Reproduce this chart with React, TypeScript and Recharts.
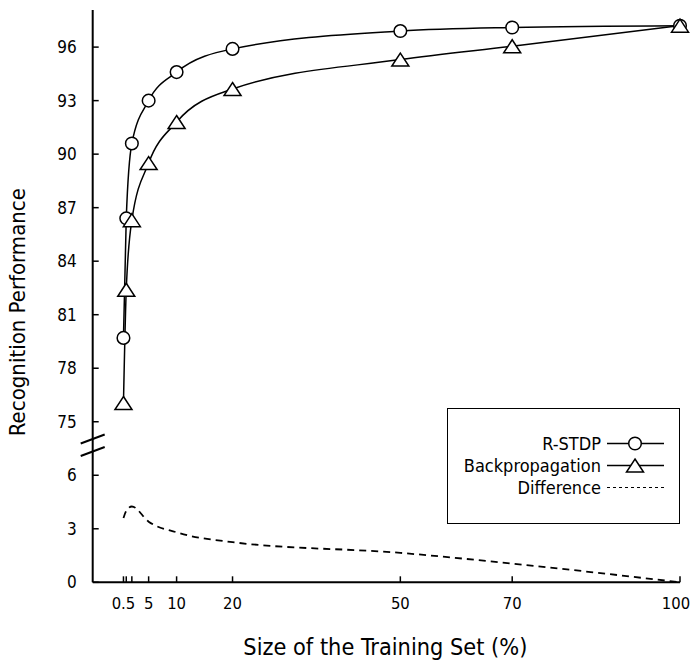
import { Label, Legend, Line, LineChart, XAxis, YAxis } from "recharts";

const SIZES = [0.5, 1, 2, 5, 10, 20, 50, 70, 100];
const RSTDP = [79.7, 86.4, 90.6, 93.0, 94.6, 95.9, 96.9, 97.1, 97.2];
const BACKPROP = [76.05, 82.4, 86.3, 89.5, 91.8, 93.65, 95.3, 96.05, 97.2];
const DIFFERENCE = [3.6, 4.0, 4.25, 3.4, 2.8, 2.25, 1.65, 1.05, 0];

const X_TICKS = [0.5, 1, 2, 5, 10, 20, 50, 70, 100];
const X_LABELED = [0.5, 5, 10, 20, 50, 70, 100];
const LOWER_TICKS = [0, 3, 6];
const UPPER_TICKS = [75, 78, 81, 84, 87, 90, 93, 96];
const LEGEND_ORDER = ["rstdp", "backprop", "difference"];

// broken y axis: 0..6 below, 75..98 above, with 3 units of empty room between
const LOWER_MAX = 6;
const UPPER_MIN = 75;
const GAP = 3;
const SHIFT = UPPER_MIN - (LOWER_MAX + GAP);
const BREAK_POS = LOWER_MAX + GAP / 2;
const toPlot = (v: number) => (v >= UPPER_MIN ? v - SHIFT : v);
const fromPlot = (p: number) => (p > BREAK_POS ? p + SHIFT : p);

const FONT = "'DejaVu Sans Condensed', 'DejaVu Sans', sans-serif";
const INK = "#000";

const rows = SIZES.map((size, i) => ({
  size,
  rstdp: toPlot(RSTDP[i]),
  backprop: toPlot(BACKPROP[i]),
  difference: DIFFERENCE[i],
}));

const yTicks = [...LOWER_TICKS, BREAK_POS, ...UPPER_TICKS.map(toPlot)];

function Circle({ cx, cy }: { cx: number; cy: number }) {
  return <circle cx={cx} cy={cy} r={6.3} fill="#fff" stroke={INK} strokeWidth={1.5} />;
}

function Triangle({ cx, cy }: { cx: number; cy: number }) {
  return (
    <polygon
      points={`${cx},${cy - 6.5} ${cx + 8.5},${cy + 6.5} ${cx - 8.5},${cy + 6.5}`}
      fill="#fff"
      stroke={INK}
      strokeWidth={1.5}
    />
  );
}

function YTick({ x, y, payload }: any) {
  const v = payload.value;
  if (v === BREAK_POS) {
    return (
      <g stroke={INK} strokeWidth={2}>
        <line x1={x - 12} y1={y - 5} x2={x + 12} y2={y - 14} />
        <line x1={x - 12} y1={y + 7.5} x2={x + 12} y2={y - 1.5} />
      </g>
    );
  }
  return (
    <g>
      <line x1={x} y1={y} x2={x + 6} y2={y} stroke={INK} strokeWidth={1.5} />
      <text x={x - 16} y={y} dy={6} textAnchor="end" fontFamily={FONT} fontSize={17} fill={INK}>
        {fromPlot(v)}
      </text>
    </g>
  );
}

function XTick({ x, y, payload }: any) {
  const v = payload.value;
  const last = v === X_TICKS[X_TICKS.length - 1];
  return (
    <g>
      <line x1={x} y1={y} x2={x} y2={y - 6} stroke={INK} strokeWidth={1.5} />
      {X_LABELED.includes(v) && (
        <text
          x={last ? x - 4 : x}
          y={y + 27}
          textAnchor="middle"
          fontFamily={FONT}
          fontSize={16.5}
          fill={INK}
        >
          {v}
        </text>
      )}
    </g>
  );
}

const MARKERS: Record<string, (cx: number, cy: number) => any> = {
  rstdp: (cx, cy) => <Circle cx={cx} cy={cy} />,
  backprop: (cx, cy) => <Triangle cx={cx} cy={cy} />,
  difference: () => null,
};

function LegendBox({ payload }: any) {
  const entries = [...(payload ?? [])].sort(
    (a: any, b: any) => LEGEND_ORDER.indexOf(a.dataKey) - LEGEND_ORDER.indexOf(b.dataKey)
  );
  return (
    <div style={{ width: 233, height: 116, border: `1.5px solid ${INK}`, boxSizing: "border-box", background: "#fff" }}>
      <svg width={230} height={113} style={{ display: "block" }}>
        {entries.map((entry: any, i: number) => {
          const cy = 34.5 + i * 22;
          const dashed = entry.dataKey === "difference";
          return (
            <g key={entry.dataKey}>
              <text x={153} y={cy} dy={6.5} textAnchor="end" fontFamily={FONT} fontSize={18} fill={INK}>
                {entry.value}
              </text>
              <line
                x1={159}
                y1={cy}
                x2={216}
                y2={cy}
                stroke={INK}
                strokeWidth={dashed ? 1.2 : 1.5}
                strokeDasharray={dashed ? "3 3" : undefined}
              />
              {MARKERS[entry.dataKey](187, cy)}
            </g>
          );
        })}
      </svg>
    </div>
  );
}

export default function App() {
  return (
    <div style={{ position: "absolute", left: 0, top: 0, width: 691, height: 661, background: "#fff" }}>
      <LineChart width={691} height={661} data={rows} margin={{ top: 10, right: 11, left: 0, bottom: 0 }}>
        <XAxis
          dataKey="size"
          type="number"
          domain={[-5, 100]}
          ticks={X_TICKS}
          interval={0}
          height={78.7}
          tickSize={0}
          tickMargin={0}
          tick={<XTick />}
          axisLine={{ stroke: INK, strokeWidth: 2 }}
        >
          <Label
            content={({ viewBox }: any) => (
              <text
                x={viewBox.x + viewBox.width / 2 - 1}
                y={viewBox.y + viewBox.height - 6}
                textAnchor="middle"
                fontFamily={FONT}
                fontSize={23.3}
                fill={INK}
              >
                Size of the Training Set (%)
              </text>
            )}
          />
        </XAxis>
        <YAxis
          type="number"
          domain={[0, 32.08]}
          ticks={yTicks}
          interval={0}
          width={92.7}
          tickSize={0}
          tickMargin={0}
          tick={<YTick />}
          axisLine={{ stroke: INK, strokeWidth: 2 }}
        >
          <Label
            content={({ viewBox }: any) => {
              const cx = 25;
              const cy = viewBox.y + viewBox.height / 2 + 16;
              return (
                <text
                  x={cx}
                  y={cy}
                  transform={`rotate(-90 ${cx} ${cy})`}
                  textAnchor="middle"
                  fontFamily={FONT}
                  fontSize={22}
                  fill={INK}
                >
                  Recognition Performance
                </text>
              );
            }}
          />
        </YAxis>
        <Legend
          layout="horizontal"
          verticalAlign="middle"
          align="center"
          content={<LegendBox />}
          wrapperStyle={{ position: "absolute", left: 447, top: 408, width: 233, height: 116 }}
        />
        <Line
          dataKey="rstdp"
          name="R-STDP"
          type="monotone"
          stroke={INK}
          strokeWidth={1.5}
          dot={(p: any) => <Circle key={`c-${p.index}`} cx={p.cx} cy={p.cy} />}
          activeDot={false}
          isAnimationActive={false}
        />
        <Line
          dataKey="backprop"
          name="Backpropagation"
          type="monotone"
          stroke={INK}
          strokeWidth={1.5}
          dot={(p: any) => <Triangle key={`t-${p.index}`} cx={p.cx} cy={p.cy} />}
          activeDot={false}
          isAnimationActive={false}
        />
        <Line
          dataKey="difference"
          name="Difference"
          type="monotone"
          stroke={INK}
          strokeWidth={1.8}
          strokeDasharray="7 5"
          dot={false}
          activeDot={false}
          isAnimationActive={false}
        />
      </LineChart>
    </div>
  );
}
